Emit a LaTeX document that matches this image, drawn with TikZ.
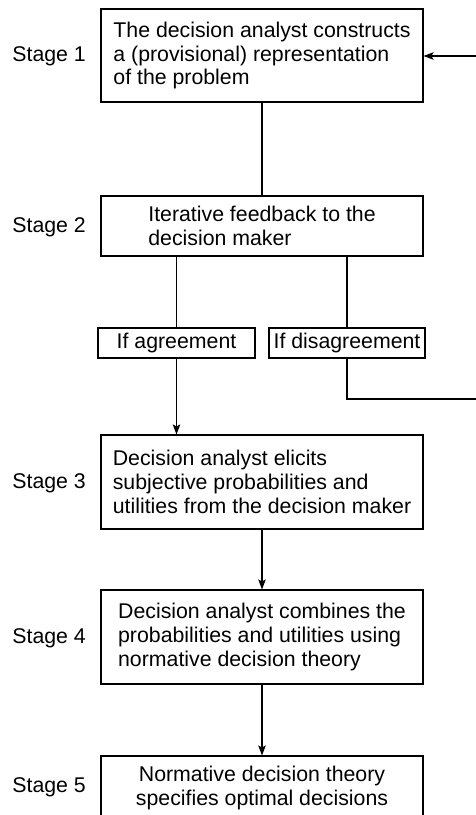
\documentclass[tikz,border=0pt]{standalone}
\usepackage{fontspec}
\setmainfont{Liberation Sans}
\usetikzlibrary{arrows.meta}
\begin{document}
\begin{tikzpicture}[x=1pt,y=-1pt,
  every node/.style={font=\fontsize{21.3}{23.8}\selectfont},
  bigbox/.style={draw,line width=1.1pt,minimum width=322pt,align=left,inner sep=0pt},
  smallbox/.style={draw,line width=1.1pt,minimum height=30pt,inner sep=0pt},
  stagelbl/.style={anchor=east,inner sep=0pt},
  conn/.style={line width=1.1pt},
  arr/.style={line width=1.1pt,-{Stealth[length=10pt,width=7.5pt,inset=2pt]}}]
\useasboundingbox (0,0) rectangle (476,815);
\node[bigbox,minimum height=93pt] (s1) at (262,55.5) {The decision analyst constructs\\a (provisional) representation\\of the problem};
\node[bigbox,minimum height=60pt] (s2) at (262,226) {Iterative feedback to the\\decision maker};
\node[smallbox,minimum width=157pt] (agr) at (176.5,343) {If agreement};
\node[smallbox,minimum width=156pt] (dis) at (347,343) {If disagreement};
\node[bigbox,minimum height=94pt] (s3) at (262,482) {Decision analyst elicits\\subjective probabilities and\\utilities from the decision maker};
\node[bigbox,minimum height=94pt] (s4) at (262,637) {Decision analyst combines the\\probabilities and utilities using\\normative decision theory};
\node[bigbox,minimum height=64pt,align=center] (s5) at (262,788) {Normative decision theory\\specifies optimal decisions};
\node[stagelbl] (l1) at (86,56) {Stage 1};
\node[stagelbl] (l2) at (86,227) {Stage 2};
\node[stagelbl] (l3) at (86,483) {Stage 3};
\node[stagelbl] (l4) at (86,638) {Stage 4};
\node[stagelbl] (l5) at (86,787) {Stage 5};
\coordinate (r1) at (477,56);
\coordinate (r2) at (477,399);
\draw[conn] (s1.south) -- (s2.north);
\draw[conn] (s2.south -| agr.north) -- (agr.north);
\draw[conn] (s2.south -| dis.north) -- (dis.north);
\draw[arr] (agr.south) -- (agr.south |- s3.north);
\draw[conn] (dis.south) |- (r2);
\draw[arr] (r1) -- (s1.east |- r1);
\draw[arr] (s3.south) -- (s4.north);
\draw[arr] (s4.south) -- (s5.north);
\end{tikzpicture}
\end{document}
